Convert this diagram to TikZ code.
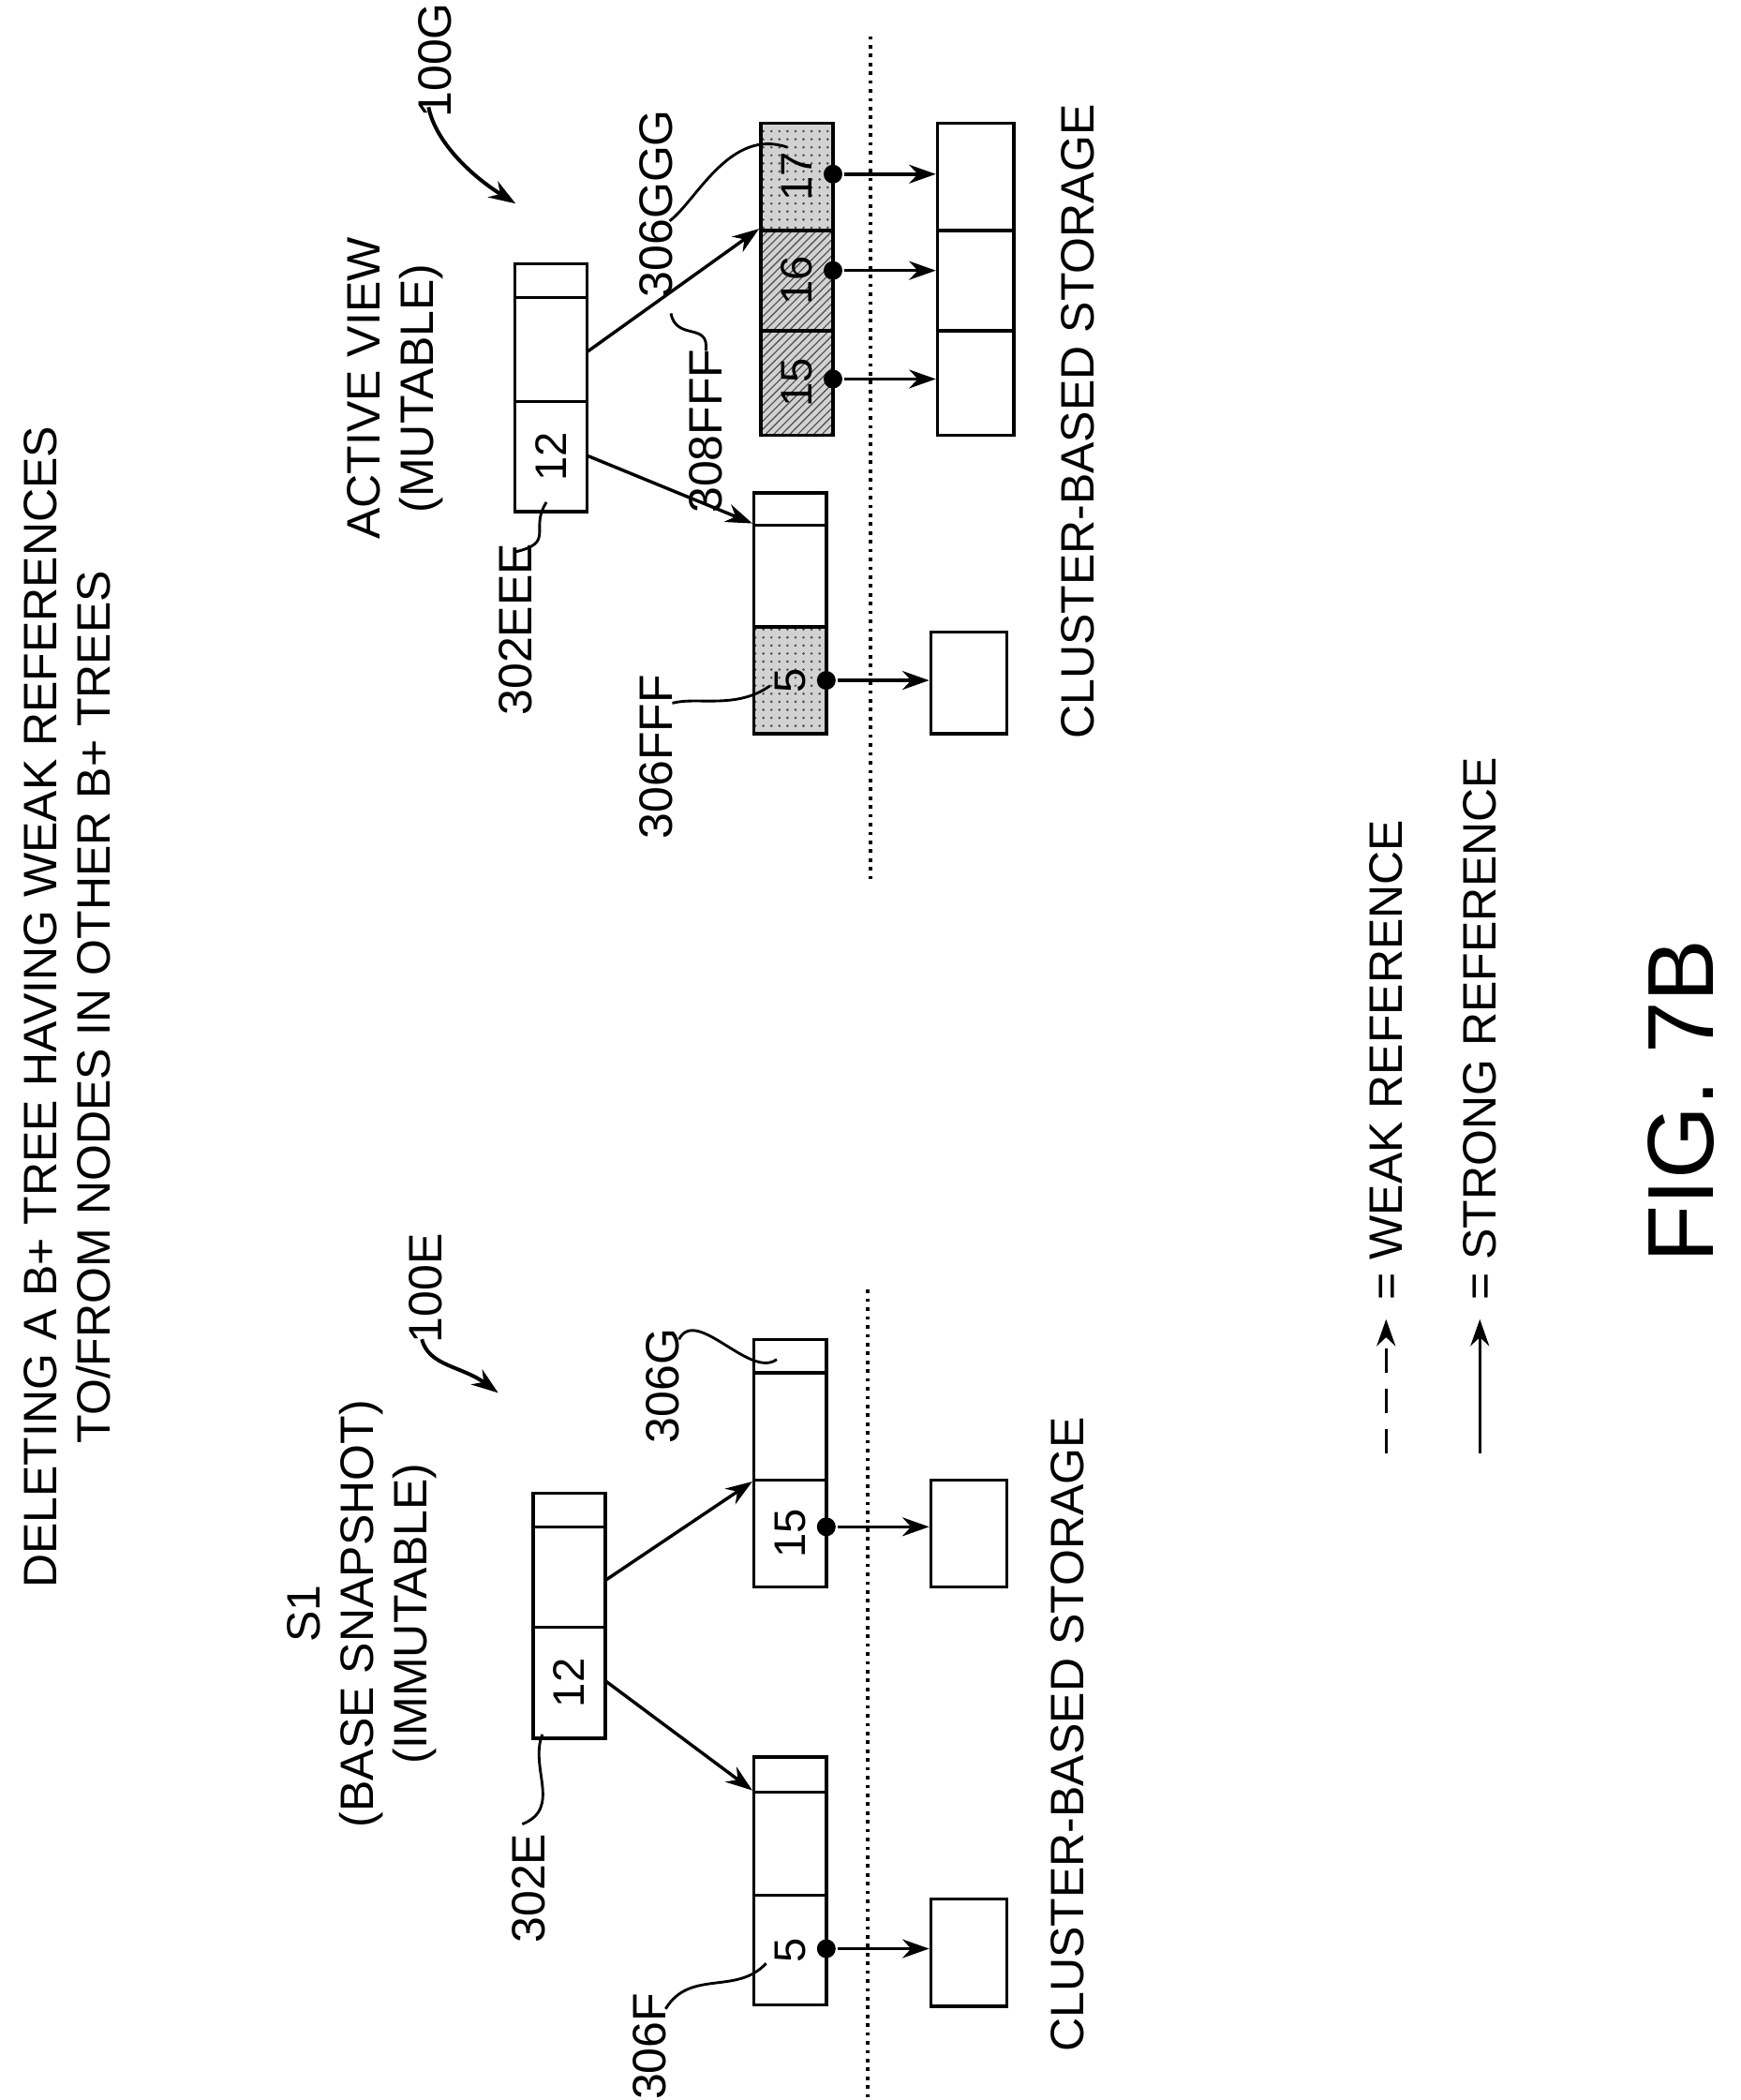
\documentclass[tikz,border=0pt]{standalone}
\usepackage{fontspec}
\setmainfont{Liberation Sans}
\usetikzlibrary{arrows.meta,patterns}
\begin{document}
\begin{tikzpicture}[x=0.5pt,y=-0.5pt,line width=1.2pt,
  cell/.style={draw,rectangle,minimum width=27pt,inner sep=0pt,font=\fontsize{16.5}{16.5}\selectfont},
  sto/.style={draw,rectangle,minimum width=28.5pt,inner sep=0pt},
  arr/.style={-{Stealth[length=10pt,width=7pt]}},
  dotp/.style={circle,fill,inner sep=0pt,minimum size=7pt},
  txt/.style={rotate=90,font=\fontsize{17.5}{20}\selectfont,align=center,inner sep=0pt},
  lbl/.style={rotate=90,font=\fontsize{17.5}{20}\selectfont,inner sep=0pt},
  lead/.style={line width=1pt}]
\useasboundingbox (0,0) rectangle (1300,1568);
% title
\node[txt] (title) at (50,752) {DELETING A B+ TREE HAVING WEAK REFERENCES\\TO/FROM NODES IN OTHER B+ TREES};
% ---------- left tree
\node[txt] (s1) at (270,1205) {S1\\(BASE SNAPSHOT)\\(IMMUTABLE)};
\node[cell,minimum height=12.5pt] (rLt) at (425,1127.5) {};
\node[cell,minimum height=37.5pt] (rLm) at (425,1177.5) {};
\node[cell,minimum height=41.5pt] (rLb) at (425,1256.5) {\rotatebox{90}{12}};
\node[cell,minimum height=12.5pt] (gt) at (590,1012.5) {};
\node[cell,minimum height=40pt] (gm) at (590,1065) {};
\node[cell,minimum height=40pt] (gb) at (590,1145) {\rotatebox{90}{15}};
\node[cell,minimum height=13pt] (ft) at (590,1325) {};
\node[cell,minimum height=38.5pt] (fm) at (590,1376.5) {};
\node[cell,minimum height=41pt] (fb) at (590,1456) {\rotatebox{90}{5}};
\node[sto,minimum height=40pt] (sg) at (723.5,1145) {};
\node[sto,minimum height=40pt] (sf) at (723.5,1458) {};
\node[dotp] (dg) at (617,1140) {};
\node[dotp] (df) at (617,1455) {};
\draw[arr] (dg) -- (sg.west|-dg);
\draw[arr] (df) -- (sf.west|-df);
\coordinate (aL1) at (452,1180); \coordinate (aL2) at (452,1255);
\draw[arr] (aL1) -- (gm.south west);
\draw[arr] (aL2) -- (fm.north west);
\draw[dotted,line width=1.3pt] (648,963) -- (648,1568);
\node[lbl] (l306G) at (495,1035) {306G};
\draw[lead] (507,1000) .. controls (520,975) and (560,1030) .. (580,1015);
\node[lbl] (l302E) at (395,1410) {302E};
\draw[lead] (390,1362) .. controls (420,1350) and (395,1320) .. (405,1295);
\node[lbl] (l306F) at (485,1528) {306F};
\draw[lead] (497,1500) .. controls (515,1470) and (550,1490) .. (572,1466);
\node[lbl] (l100E) at (318,962) {100E};
\draw[arr,line width=1.4pt] (315,1000) .. controls (320,1020) and (345,1020) .. (372,1040);
\node[lbl] (csL) at (797,1295) {CLUSTER-BASED STORAGE};
% ---------- right tree
\node[txt] (av) at (295,290) {ACTIVE VIEW\\(MUTABLE)};
\node[cell,minimum height=12.5pt] (rRt) at (411.5,209.5) {};
\node[cell,minimum height=39pt] (rRm) at (411.5,261) {};
\node[cell,minimum height=41pt] (rRb) at (411.5,341) {\rotatebox{90}{12}};
% FFF
\node[cell,minimum height=12pt] (fft) at (590,380) {};
\node[cell,minimum height=38pt] (ffm) at (590,430) {};
\fill[gray!35] (563,468) rectangle (617,548);
\fill[pattern=dots,pattern color=black!70] (563,468) rectangle (617,548);
\node[cell,minimum height=40pt] (ffb) at (590,508) {\rotatebox{90}{5}};
% GGG
\fill[gray!35] (568,92) rectangle (622,325);
\fill[pattern=dots,pattern color=black!70] (568,92) rectangle (622,172);
\fill[pattern=north east lines,pattern color=black!70] (568,172) rectangle (622,325);
\node[cell,minimum height=40pt] (g17) at (595,132) {\rotatebox{90}{17}};
\node[cell,minimum height=37.5pt] (g16) at (595,209.5) {\rotatebox{90}{16}};
\node[cell,minimum height=39pt] (g15) at (595,286) {\rotatebox{90}{15}};
\node[sto,minimum height=40pt] (s17) at (728.5,132) {};
\node[sto,minimum height=37.5pt] (s16) at (728.5,209.5) {};
\node[sto,minimum height=39pt] (s15) at (728.5,286) {};
\node[sto,minimum height=38pt] (sff) at (723.5,510) {};
\node[dotp] (d17) at (622,130) {};
\node[dotp] (d16) at (622,202) {};
\node[dotp] (d15) at (622,283) {};
\node[dotp] (dff) at (617,508) {};
\draw[arr] (d17) -- (s17.west|-d17);
\draw[arr] (d16) -- (s16.west|-d16);
\draw[arr] (d15) -- (s15.west|-d15);
\draw[arr] (dff) -- (sff.west|-dff);
\coordinate (aR1) at (438,263); \coordinate (aR2) at (438,340);
\draw[arr] (aR1) -- (g16.north west);
\draw[arr] (aR2) -- (ffm.north west);
\draw[dotted,line width=1.3pt] (650,27) -- (650,660);
\node[lbl] (l306GGG) at (490,152) {306GGG};
\draw[lead] (500,165) .. controls (520,150) and (545,95) .. (588,110);
\node[lbl] (l308FFF) at (527,322) {308FFF};
\draw[lead] (527,262) .. controls (530,240) and (505,255) .. (501,234);
\node[lbl] (l302EEE) at (385,470) {302EEE};
\draw[lead] (385,412) .. controls (415,405) and (395,395) .. (408,375);
\node[lbl] (l306FFF) at (490,565) {306FFF};
\draw[lead] (502,525) .. controls (520,520) and (550,530) .. (575,512);
\node[lbl] (l100G) at (325,45) {100G};
\draw[arr,line width=1.4pt] (320,80) .. controls (325,105) and (350,130) .. (385,152);
\node[lbl] (csR) at (805,315) {CLUSTER-BASED STORAGE};
% ---------- legend
\coordinate (w1) at (1035,1085); \coordinate (w2) at (1035,985);
\draw[arr,dashed,dash pattern=on 9pt off 6pt] (w1) -- (w2);
\node[lbl,anchor=west] (weak) at (1035,972) {= WEAK REFERENCE};
\coordinate (s1a) at (1105,1085); \coordinate (s2a) at (1105,985);
\draw[arr] (s1a) -- (s2a);
\node[lbl,anchor=west] (strong) at (1105,972) {= STRONG REFERENCE};
\node[rotate=90,font=\fontsize{35}{35}\selectfont] (fig) at (1255,822) {FIG. 7B};
\end{tikzpicture}
\end{document}
